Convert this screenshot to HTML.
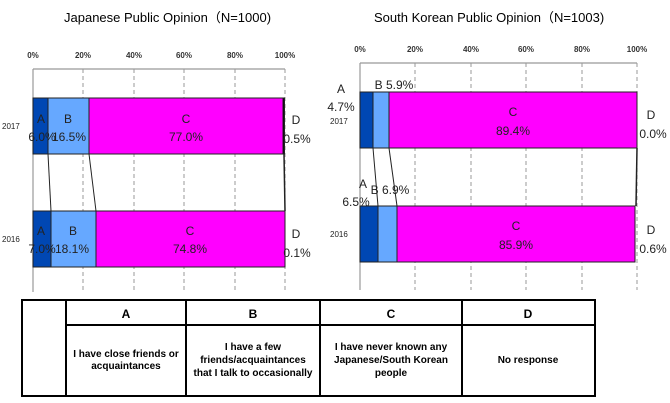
<!DOCTYPE html>
<html><head><meta charset="utf-8"><style>
body{margin:0;width:670px;height:403px;background:#fff;overflow:hidden;font-family:"Liberation Sans",sans-serif}
</style></head><body>
<svg width="670" height="403" xmlns="http://www.w3.org/2000/svg" style="position:absolute;left:0;top:0">
<g font-family="Liberation Sans, sans-serif">
<text x="64" y="22" font-size="13" fill="#000">Japanese Public Opinion（N=1000)</text>
<text x="374" y="22" font-size="13" fill="#000">South Korean Public Opinion（N=1003)</text>

<!-- Left chart -->
<g font-size="8" fill="#333" text-anchor="middle" font-weight="bold">
<text x="33" y="58">0%</text><text x="83" y="58">20%</text><text x="134" y="58">40%</text><text x="184" y="58">60%</text><text x="235" y="58">80%</text><text x="285" y="58">100%</text>
</g>
<line x1="33" y1="69" x2="285" y2="69" stroke="#999" stroke-width="1.2"/>
<g stroke="#999" stroke-dasharray="4,3">
<line x1="83" y1="69" x2="83" y2="292"/><line x1="134" y1="69" x2="134" y2="292"/><line x1="184" y1="69" x2="184" y2="292"/><line x1="235" y1="69" x2="235" y2="292"/><line x1="285" y1="69" x2="285" y2="292"/>
</g>
<line x1="33" y1="69" x2="33" y2="292" stroke="#999" stroke-width="1.2"/>
<g stroke="#222" stroke-width="1">
<rect x="33" y="98" width="15" height="56" fill="#0047b3"/>
<rect x="48" y="98" width="41" height="56" fill="#66a8ff"/>
<rect x="89" y="98" width="194" height="56" fill="#ff00ff"/>
<rect x="283" y="98" width="1.5" height="56" fill="#000"/>
<rect x="33" y="211" width="18" height="56" fill="#0047b3"/>
<rect x="51" y="211" width="45" height="56" fill="#66a8ff"/>
<rect x="96" y="211" width="189" height="56" fill="#ff00ff"/>
<line x1="48" y1="154" x2="51" y2="211"/><line x1="89" y1="154" x2="96" y2="211"/><line x1="284" y1="154" x2="285" y2="211" stroke-width="1.5"/>
</g>
<g font-size="12" fill="#222" text-anchor="middle">
<text x="41" y="123">A</text><text x="42" y="141">6.0%</text>
<text x="68" y="123">B</text><text x="69" y="141">16.5%</text>
<text x="186" y="123">C</text><text x="186" y="141">77.0%</text>
<text x="296" y="124">D</text><text x="297" y="143">0.5%</text>
<text x="41" y="235">A</text><text x="42" y="253">7.0%</text>
<text x="73" y="235">B</text><text x="72" y="253">18.1%</text>
<text x="190" y="235">C</text><text x="190" y="253">74.8%</text>
<text x="296" y="238">D</text><text x="297" y="257">0.1%</text>
</g>
<g font-size="8" fill="#222"><text x="2" y="129">2017</text><text x="2" y="242">2016</text></g>

<!-- Right chart -->
<g font-size="8" fill="#333" text-anchor="middle" font-weight="bold">
<text x="360" y="52">0%</text><text x="415" y="52">20%</text><text x="471" y="52">40%</text><text x="526" y="52">60%</text><text x="582" y="52">80%</text><text x="637" y="52">100%</text>
</g>
<line x1="360" y1="63" x2="637" y2="63" stroke="#999" stroke-width="1.2"/>
<g stroke="#999" stroke-dasharray="4,3">
<line x1="415" y1="63" x2="415" y2="290"/><line x1="471" y1="63" x2="471" y2="290"/><line x1="526" y1="63" x2="526" y2="290"/><line x1="582" y1="63" x2="582" y2="290"/><line x1="637" y1="63" x2="637" y2="290"/>
</g>
<line x1="360" y1="63" x2="360" y2="290" stroke="#999" stroke-width="1.2"/>
<g stroke="#222" stroke-width="1">
<rect x="360" y="92" width="13" height="56" fill="#0047b3"/>
<rect x="373" y="92" width="16" height="56" fill="#66a8ff"/>
<rect x="389" y="92" width="248" height="56" fill="#ff00ff"/>
<rect x="360" y="206" width="18" height="56" fill="#0047b3"/>
<rect x="378" y="206" width="19" height="56" fill="#66a8ff"/>
<rect x="397" y="206" width="238" height="56" fill="#ff00ff"/>
<line x1="373" y1="148" x2="378" y2="206"/><line x1="389" y1="148" x2="397" y2="206"/><line x1="637" y1="148" x2="636" y2="206" stroke-width="1.5"/>
</g>
<g font-size="12" fill="#222" text-anchor="middle">
<text x="341" y="93">A</text><text x="341" y="111">4.7%</text>
<text x="394" y="89">B 5.9%</text>
<text x="513" y="116">C</text><text x="513" y="135">89.4%</text>
<text x="651" y="119">D</text><text x="653" y="138">0.0%</text>
<text x="363" y="188">A</text><text x="356" y="206">6.5%</text>
<text x="390" y="194">B 6.9%</text>
<text x="516" y="230">C</text><text x="516" y="249">85.9%</text>
<text x="651" y="234">D</text><text x="653" y="253">0.6%</text>
</g>
<g font-size="8" fill="#222"><text x="330" y="124">2017</text><text x="330" y="237">2016</text></g>

<!-- Table -->
<g stroke="#000" stroke-width="2" fill="none">
<rect x="22" y="300" width="573" height="96"/>
<line x1="66" y1="300" x2="66" y2="396"/><line x1="186" y1="300" x2="186" y2="396"/><line x1="320" y1="300" x2="320" y2="396"/><line x1="462" y1="300" x2="462" y2="396"/>
<line x1="66" y1="325" x2="595" y2="325"/>
</g>
<g font-size="12" font-weight="bold" text-anchor="middle" fill="#000">
<text x="126" y="318">A</text><text x="253" y="318">B</text><text x="391" y="318">C</text><text x="528" y="318">D</text>
</g>
<g font-size="10" font-weight="bold" text-anchor="middle" fill="#000">
<text x="126" y="357">I have close friends or</text><text x="126" y="369">acquaintances</text>
<text x="253" y="350">I have a few</text><text x="253" y="363">friends/acquaintances</text><text x="253" y="376">that I talk to occasionally</text>
<text x="391" y="350">I have never known any</text><text x="391" y="363">Japanese/South Korean</text><text x="391" y="376">people</text>
<text x="528" y="363">No response</text>
</g>
</g>
</svg>
</body></html>
